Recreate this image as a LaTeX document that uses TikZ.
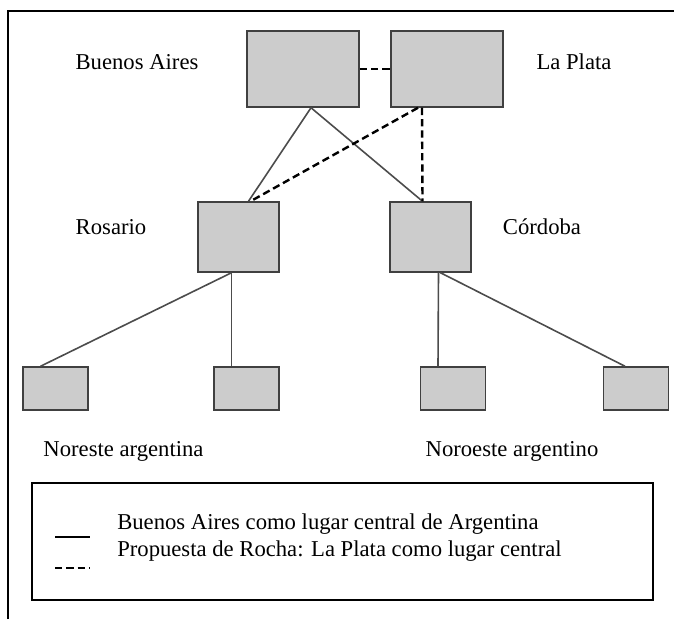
\documentclass[tikz,border=0pt]{standalone}
\usepackage{fontspec}
\setmainfont{Liberation Serif}
\usetikzlibrary{calc,positioning}

\begin{document}
\begin{tikzpicture}
          [ x=0.75pt, y=-0.75pt,
            place/.style={
              rectangle,
              draw=black!75,
              line width=1.1pt,
              fill=gray!40},
            bigplace/.style={place, minimum width=84pt, minimum height=57pt},
            midplace/.style={place, minimum width=60.75pt, minimum height=52.5pt},
            smallplace/.style={place, minimum width=48.75pt, minimum height=32.25pt},
            label/.style={
              inner sep=0pt,
              anchor=base,
              font=\fontsize{17}{20}\selectfont},
            link/.style={
              draw,
              black!70,
              line width=1.2pt},
            proposal/.style={
              draw,
              black,
              line width=1.8pt,
              dash pattern=on 5.5pt off 3pt},
          ]

          \useasboundingbox (0,0) rectangle (674,619);

          % outer frame (left and top only)
          \draw[line width=1.5pt] (8,619) -- (8,10.5) -- (674,10.5);

          % places
          \node (ba) [bigplace] at (303,69) {};
          \node (lp) [bigplace] at (447,69) {};
          \node (ros) [midplace] at (238.5,237) {};
          \node (cor) [midplace] at (430.5,237) {};
          \node (ne1) [smallplace] at (55.5,388.5) {};
          \node (ne2) [smallplace] at (246.5,388.5) {};
          \node (no1) [smallplace] at (453,388.5) {};
          \node (no2) [smallplace] at (636,388.5) {};

          % names
          \node (balabel) [label] at (137,69) {Buenos Aires};
          \node (lplabel) [label] at (574,69) {La Plata};
          \node (roslabel) [label] at (111,234) {Rosario};
          \node (corlabel) [label] at (542,234) {Córdoba};
          \node (nelabel) [label] at (123.5,456) {Noreste argentina};
          \node (nolabel) [label] at (512,456) {Noroeste argentino};

          % Buenos Aires as central place
          \draw[link] ($(ba.south) + (8,0)$) -- ($(ros.north) + (10,0)$);
          \draw[link] ($(ba.south) + (8,0)$) -- ($(cor.north) - (8,0)$);
          \draw[link] ($(ros.south) - (7,0)$) -- ($(ne1.north) - (15,0)$);
          \draw[link] ($(ros.south) - (7,0)$) -- ($(ne2.north) - (15,0)$);
          \draw[link] ($(cor.south) + (8,0)$) -- ($(no1.north) - (15,0)$);
          \draw[link] ($(cor.south) + (10,0)$) -- ($(no2.north) - (11,0)$);

          % La Plata as central place
          \draw[proposal] (ba.east) -- (lp.west);
          \draw[proposal] ($(lp.south) - (29,0)$) -- ($(ros.north) + (12,0)$);
          \draw[proposal] ($(lp.south) - (25,0)$) -- ($(cor.north) - (8,0)$);

          % legend
          \node (legend) [draw, line width=1.5pt, minimum width=465.75pt, minimum height=87.75pt] at (342.5,541.5) {};
          \draw[black, line width=1.5pt] (55,537) -- (90,537);
          \draw[proposal] (55,568) -- (90,568);
          \node (leg1) [label, anchor=base west] at (117,529) {Buenos Aires como lugar central de Argentina};
          \node (leg2) [label, anchor=base west] at (117,556) {Propuesta de Rocha: La Plata como lugar central};

        \end{tikzpicture}
\end{document}
